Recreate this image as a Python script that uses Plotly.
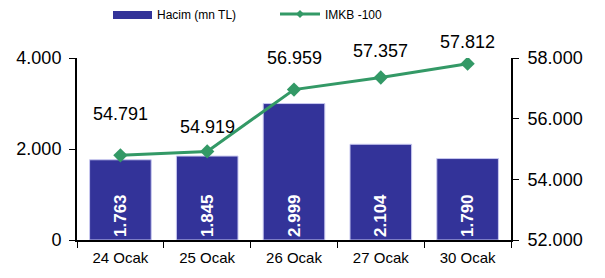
import plotly.graph_objects as go

categories = ["24 Ocak", "25 Ocak", "26 Ocak", "27 Ocak", "30 Ocak"]
hacim = [1763, 1845, 2999, 2104, 1790]
imkb = [54791, 54919, 56959, 57357, 57812]
label_shift = [29, 12, 20, 15, 10]

BAR = "#333399"
LINE = "#339966"
FONT = "Liberation Sans, Arial, sans-serif"

# page body has an 8px default offset; compensate in margins
OFF = 8
L, T, PW, PH = 77 - OFF, 58 - OFF, 434, 182


def px(x):
    return (x - 77) / PW


def py(y):
    return (240 - y) / PH


fig = go.Figure()
fig.add_trace(go.Bar(
    x=categories, y=hacim, name="Hacim (mn TL)",
    marker=dict(color=BAR, line=dict(color="#c8c8f0", width=1)),
    width=0.71,
    texttemplate="%{y:,d}", textposition="inside", insidetextanchor="start",
    textangle=-90, textfont=dict(color="white", size=17, family=FONT, weight="bold"),
    yaxis="y", showlegend=False,
))
fig.add_trace(go.Scatter(
    x=categories, y=imkb, name="IMKB -100", mode="lines+markers",
    line=dict(color=LINE, width=3),
    marker=dict(symbol="diamond", size=11, color=LINE),
    yaxis="y2", showlegend=False,
))

for c, v, s in zip(categories, imkb, label_shift):
    fig.add_annotation(x=c, y=v, yref="y2", text=f"{v:,}".replace(",", "."),
                       showarrow=False, yanchor="bottom", yshift=s,
                       font=dict(size=18, color="black", family=FONT))

# manual legend
fig.add_shape(type="rect", xref="paper", yref="paper",
              x0=px(113), x1=px(152), y0=py(19), y1=py(11),
              fillcolor=BAR, line=dict(width=0))
fig.add_annotation(xref="paper", yref="paper", x=px(155), y=py(15),
                   text="Hacim (mn TL)", showarrow=False, xanchor="left", yanchor="middle",
                   font=dict(size=12, family=FONT, color="black"))
fig.add_shape(type="line", xref="paper", yref="paper",
              x0=px(280), x1=px(320), y0=py(14), y1=py(14),
              line=dict(color=LINE, width=3))
fig.add_shape(type="path", xref="paper", yref="paper",
              path="M {a},{b} L {c},{d} L {a},{e} L {f},{d} Z".format(
                  a=px(300), b=py(10), c=px(304), d=py(14), e=py(18), f=px(296)),
              fillcolor=LINE, line=dict(width=0))
fig.add_annotation(xref="paper", yref="paper", x=px(323), y=py(15),
                   text="IMKB -100", showarrow=False, xanchor="left", yanchor="middle",
                   font=dict(size=12, family=FONT, color="black"))

fig.update_layout(
    width=605, height=278,
    margin=dict(l=L, r=605 - L - PW, t=T, b=278 - T - PH, autoexpand=False),
    paper_bgcolor="white", plot_bgcolor="white",
    separators=",.",
    font=dict(family=FONT, color="black"),
    xaxis=dict(showline=True, linecolor="black", linewidth=2, ticks="outside",
               tickson="boundaries", ticklen=6, tickcolor="black",
               tickfont=dict(size=15), showgrid=False, automargin=False,
               ticklabelstandoff=3),
    yaxis=dict(range=[0, 4000], tickvals=[0, 2000, 4000], tickformat=",d",
               showline=True, linecolor="black", linewidth=2, ticks="outside",
               ticklen=6, tickcolor="black", tickfont=dict(size=18),
               showgrid=False, zeroline=False, automargin=False,
               ticklabelstandoff=4),
    yaxis2=dict(range=[52000, 58000], tickvals=[52000, 54000, 56000, 58000],
                tickformat=",d", overlaying="y", side="right",
                showline=True, linecolor="black", linewidth=2, ticks="outside",
                ticklen=6, tickcolor="black", tickfont=dict(size=18),
                showgrid=False, zeroline=False, automargin=False,
                ticklabelstandoff=5),
    bargap=0.29,
)

fig.write_html("out.html")
